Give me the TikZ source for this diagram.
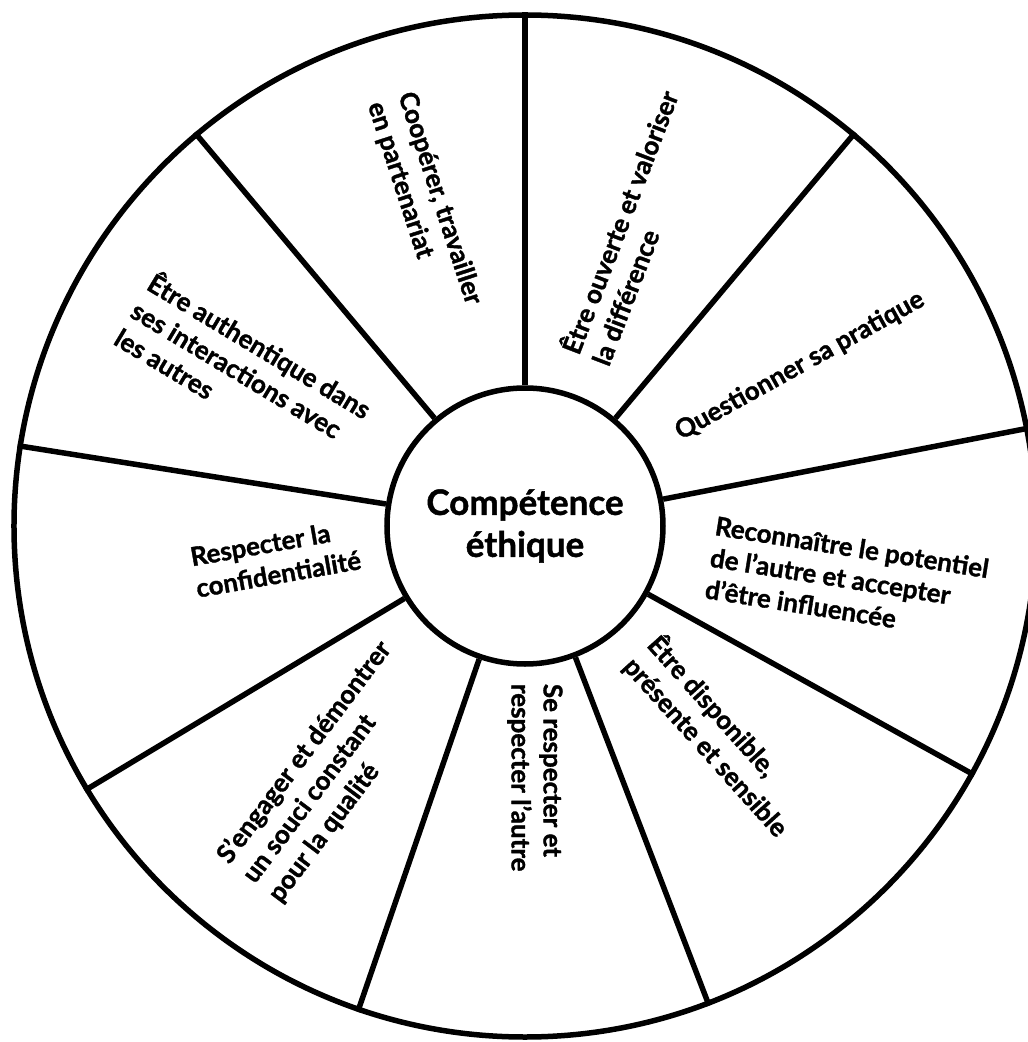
\documentclass[tikz,border=0pt]{standalone}
\usepackage{fontspec}
\setmainfont{Lato}[BoldFeatures={FakeBold=1.3}]
\tikzset{
  rim/.style={circle, draw, line width=5.5pt, minimum size=1022pt, inner sep=0pt},
  hub/.style={circle, draw, fill=white, line width=5.5pt, minimum size=276pt, inner sep=0pt,
    align=center, font=\fontsize{35}{42}\selectfont\bfseries},
  spoke/.style={line width=5.5pt},
  wedgetext/.style={anchor=west, align=left, inner sep=0pt,
    font=\fontsize{26}{32}\selectfont\bfseries}
}

\begin{document}
\begin{tikzpicture}[x=1pt, y=1pt]

  \useasboundingbox (-525,-516) rectangle (503,526);

  % wheel
  \node[rim] (rim) at (0,0) {};
  \node[hub] (hub) at (0,0) {Compétence\\éthique};
  \foreach \a in {90,50,11,331,291,251,211,171,130}
    \draw[spoke] (hub.\a) -- (rim.\a);

  % the nine wedges
  \node[wedgetext, rotate=-72] (coop) at (107.5:449) {Coopérer, travailler\\en partenariat};
  \node[wedgetext, rotate=69] (ouverte) at (71:178) {Être ouverte et valoriser\\la différence};
  \node[wedgetext, rotate=29] (pratique) at (31.2:178) {Questionner sa pratique};
  \node[wedgetext, rotate=-9] (potentiel) at (-9.5:188) {Reconnaître le potentiel\\de l’autre et accepter\\d’être influencée};
  \node[wedgetext, rotate=-48] (disponible) at (-46.9:170) {Être disponible,\\présente et sensible};
  \node[wedgetext, rotate=-90] (respect) at (-86.4:158) {Se respecter et\\respecter l’autre};
  \node[wedgetext, rotate=53] (qualite) at (-128:449) {S’engager et démontrer\\un souci constant\\pour la qualité};
  \node[wedgetext, rotate=10] (confid) at (188:335) {Respecter la\\confidentialité};
  \node[wedgetext, rotate=-31] (authentique) at (150.6:448) {Être authentique dans\\ses interactions avec\\les autres};

\end{tikzpicture}
\end{document}
